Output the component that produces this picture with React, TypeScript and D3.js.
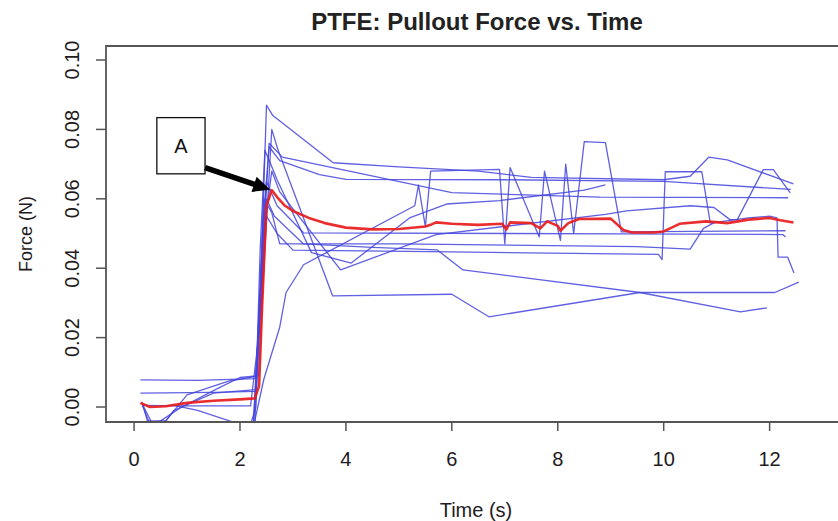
import React from "react";
import * as d3 from "d3";

const title = "PTFE: Pullout Force vs. Time";
const xLabel = "Time (s)";
const yLabel = "Force (N)";
const xTicks = [0, 2, 4, 6, 8, 10, 12];
const yTicks = [0, 0.02, 0.04, 0.06, 0.08, 0.1];

// individual trials: [time (s), force (N)]
const trial1 = [[0.12,0.0078],[1.2,0.0077],[2.3,0.0082],[2.38,0.03],[2.5,0.087],[2.62,0.084],[3.76,0.0704],[5.0,0.0692],[6.5,0.068],[7.5,0.0662],[10.0,0.0655],[10.5,0.0665],[10.85,0.072],[11.2,0.0712],[12.45,0.0643]];
const trial2 = [[0.12,0.004],[1.5,0.0042],[2.3,0.0045],[2.42,0.05],[2.55,0.075],[2.75,0.071],[3.5,0.067],[4.0,0.0656],[7.0,0.0655],[10.0,0.065],[12.4,0.0627]];
const trial3 = [[0.15,0.0008],[0.3,-0.005],[0.5,-0.004],[0.9,0.0],[1.6,0.0055],[2.0,0.0085],[2.35,0.009],[2.45,0.04],[2.6,0.08],[2.72,0.074],[3.75,0.032],[6.0,0.0325],[6.7,0.026],[9.55,0.033],[12.1,0.033],[12.55,0.036]];
const trial4 = [[2.25,-0.006],[2.45,0.008],[2.75,0.023],[2.87,0.033],[3.2,0.041],[5.3,0.058],[5.37,0.064],[5.5,0.052],[5.6,0.068],[6.9,0.0685],[7.0,0.047],[7.1,0.069],[7.65,0.049],[7.75,0.068],[8.05,0.048],[8.15,0.07],[8.3,0.05],[8.5,0.0765],[8.9,0.0762],[9.2,0.0505],[12.3,0.0508]];
const trial5 = [[2.2,-0.005],[2.3,0.0],[2.45,0.05],[2.55,0.076],[2.8,0.072],[6.0,0.0618],[8.8,0.0605],[12.35,0.0603]];
const trial6 = [[0.15,0.001],[0.35,-0.005],[0.6,-0.004],[1.0,0.0035],[1.8,0.0075],[2.3,0.0088],[2.45,0.05],[2.6,0.068],[2.75,0.062],[3.9,0.0395],[5.7,0.0497],[8.9,0.0555],[9.3,0.0565],[10.5,0.058],[10.95,0.0575],[11.25,0.054],[11.39,0.054],[11.88,0.0684],[12.07,0.0684],[12.39,0.0617]];
const trial7 = [[0.75,0.0005],[1.2,-0.001],[2.0,-0.005],[2.25,-0.006],[2.38,0.03],[2.45,0.06],[2.6,0.056],[2.75,0.047],[5.0,0.047],[9.5,0.0462],[10.5,0.0455],[10.75,0.0515],[11.0,0.0535]];
const trial8 = [[0.15,0.0005],[1.0,0.0003],[2.2,0.0003],[2.35,0.02],[2.5,0.055],[2.7,0.05],[3.0,0.0452],[6.0,0.0447],[9.9,0.044],[9.97,0.0425],[10.03,0.0678],[10.72,0.0678],[10.88,0.053],[11.6,0.0545],[12.0,0.055],[12.14,0.0545],[12.16,0.0432],[12.34,0.0432],[12.46,0.0386]];
const trial9 = [[0.15,0.0015],[0.25,-0.004],[0.6,-0.004],[0.75,-0.001],[1.5,0.004],[2.3,0.005],[2.5,0.06],[2.65,0.055],[3.2,0.047],[4.5,0.046],[5.72,0.0453],[6.21,0.0395],[9.55,0.033],[11.45,0.0274],[11.95,0.0286]];
const trial10 = [[2.25,-0.006],[2.4,0.04],[2.5,0.065],[2.7,0.058],[3.2,0.0502],[9.2,0.0499],[12.25,0.0497],[12.3,0.049]];
const trial11 = [[2.28,-0.006],[2.38,0.045],[2.47,0.074],[2.58,0.07],[2.7,0.0655],[3.35,0.0445],[4.1,0.0415],[5.2,0.0545],[5.9,0.0585],[6.9,0.0595],[8.5,0.0625],[8.9,0.064]];

const trials = [trial1, trial2, trial3, trial4, trial5, trial6, trial7, trial8, trial9, trial10, trial11];

// mean curve (red)
const meanCurve = [[0.12,0.0012],[0.3,0.0],[0.6,0.0002],[1.0,0.0012],[1.5,0.0018],[2.0,0.0022],[2.28,0.0025],[2.36,0.006],[2.42,0.03],[2.5,0.058],[2.6,0.0625],[2.7,0.0605],[2.85,0.058],[3.0,0.0565],[3.3,0.0545],[3.6,0.053],[4.0,0.0517],[4.5,0.0512],[5.0,0.0513],[5.5,0.052],[5.6,0.0525],[5.7,0.0532],[6.0,0.0528],[6.5,0.0525],[6.95,0.0528],[7.03,0.0512],[7.1,0.0532],[7.5,0.053],[7.67,0.0515],[7.8,0.0535],[8.0,0.0522],[8.05,0.0508],[8.2,0.053],[8.4,0.0542],[9.0,0.0543],[9.24,0.051],[9.4,0.0503],[9.8,0.0503],[10.0,0.0506],[10.3,0.0528],[10.8,0.0535],[11.2,0.053],[11.6,0.054],[12.0,0.0545],[12.2,0.0538],[12.45,0.0532]];

const annotationLabel = "A";
const annotationBox = [[0.43, 0.0834], [1.34, 0.0672]];
const arrowFrom = [1.34, 0.069];
const arrowTo = [2.57, 0.0626];

export default function App() {
  const W = 838, H = 521;
  const x = d3.scaleLinear().domain([-0.53, 13.48]).range([106, 848]);
  const y = d3.scaleLinear().domain([-0.00432, 0.10404]).range([422, 46]);
  const line = d3.line<number[]>().x(d => x(d[0])).y(d => y(d[1]));
  const [x0, x1] = x.range();
  const [yb, yt] = y.range();
  const font = "'Liberation Sans', Arial, Helvetica, sans-serif";
  const textColor = "#231a22";

  const p0 = [x(arrowFrom[0]), y(arrowFrom[1])];
  const p1 = [x(arrowTo[0]), y(arrowTo[1])];
  const dx = p1[0] - p0[0], dy = p1[1] - p0[1];
  const len = Math.hypot(dx, dy);
  const ux = dx / len, uy = dy / len;
  const head = 17, hw = 8;
  const bx = p1[0] - ux * head, by = p1[1] - uy * head;
  const headPts = `${p1[0]},${p1[1]} ${bx - uy * hw},${by + ux * hw} ${bx + uy * hw},${by - ux * hw}`;

  const bxL = x(annotationBox[0][0]), bxR = x(annotationBox[1][0]);
  const byT = y(annotationBox[0][1]), byB = y(annotationBox[1][1]);

  return (
    <svg width={W} height={H} style={{ position: "absolute", left: 0, top: 0, background: "#fff" }} fontFamily={font}>
      <defs>
        <clipPath id="plotclip">
          <rect x={x0} y={yt} width={x1 - x0} height={yb - yt} />
        </clipPath>
      </defs>
      <text x={477} y={30} textAnchor="middle" fontSize={24} fontWeight="bold" fill="#222">{title}</text>

      <g clipPath="url(#plotclip)">
        {trials.map((t, i) => (
          <path key={i} d={line(t) || ""} fill="none" stroke="#4444dd" strokeOpacity={0.85} strokeWidth={1.3} strokeLinejoin="round" />
        ))}
        <path d={line(meanCurve) || ""} fill="none" stroke="#e81c1c" strokeWidth={2.6} strokeLinejoin="round" strokeOpacity={0.92} />
      </g>

      {/* frame */}
      <path d={`M${x1},${yt}H${x0}V${yb}H${x1}`} fill="none" stroke="#555" strokeWidth={1.8} />

      {/* x axis */}
      {xTicks.map(t => (
        <g key={t}>
          <line x1={x(t)} x2={x(t)} y1={yb} y2={yb + 9} stroke="#555" strokeWidth={1.5} />
          <text x={x(t)} y={466} textAnchor="middle" fontSize={20} fill={textColor}>{t}</text>
        </g>
      ))}
      <text x={476} y={517} textAnchor="middle" fontSize={20} fill={textColor}>{xLabel}</text>

      {/* y axis */}
      {yTicks.map(t => (
        <g key={t}>
          <line x1={x0} x2={x0 - 10} y1={y(t)} y2={y(t)} stroke="#555" strokeWidth={1.5} />
          <text transform={`translate(79,${y(t)}) rotate(-90)`} textAnchor="middle" fontSize={20} fill={textColor}>{t.toFixed(2)}</text>
        </g>
      ))}
      <text transform={`translate(32,${(yt + yb) / 2}) rotate(-90)`} textAnchor="middle" fontSize={18} fill={textColor}>{yLabel}</text>

      {/* annotation */}
      <rect x={bxL} y={byT} width={bxR - bxL} height={byB - byT} fill="#fff" stroke="#111" strokeWidth={1.3} />
      <text x={(bxL + bxR) / 2} y={(byT + byB) / 2 + 7} textAnchor="middle" fontSize={20} fill="#111">{annotationLabel}</text>
      <line x1={p0[0]} y1={p0[1]} x2={bx + ux * 2} y2={by + uy * 2} stroke="#000" strokeWidth={5.5} />
      <polygon points={headPts} fill="#000" />
    </svg>
  );
}
